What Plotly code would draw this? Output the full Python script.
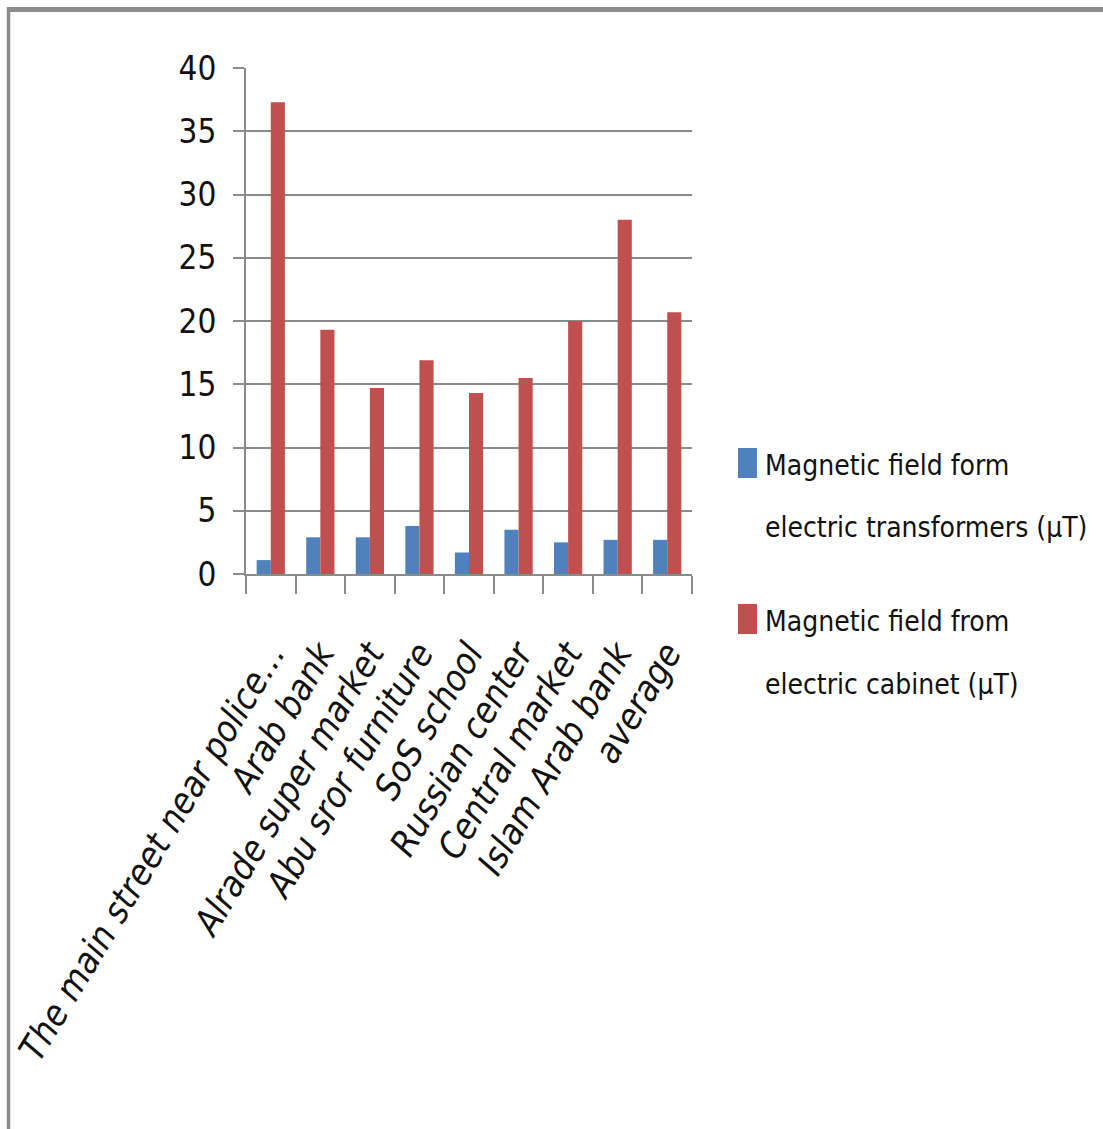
import plotly.graph_objects as go

# Measurement sites and readings (µT)
sites = [
    "The main street near police\u2026",
    "Arab bank",
    "Alrade super market",
    "Abu sror furniture",
    "SoS school",
    "Russian center",
    "Central market",
    "Islam Arab bank",
    "average",
]
transformers = [1.1, 2.9, 2.9, 3.8, 1.7, 3.5, 2.5, 2.7, 2.7]
cabinet = [37.3, 19.3, 14.7, 16.9, 14.3, 15.5, 20.0, 28.0, 20.7]

series_lines = [
    ["Magnetic field form", "electric transformers (\u00b5T)"],
    ["Magnetic field from", "electric cabinet (\u00b5T)"],
]
y_ticks = [0, 5, 10, 15, 20, 25, 30, 35, 40]

BLUE = "#4F81BD"
RED = "#C0504D"
GRID = "#8a8a8a"
FONT = "DejaVu Sans Condensed, Liberation Sans Narrow, sans-serif"

W, H = 1103, 1129
L, R, T, B = 246, 692, 68, 574  # plot area edges in pixels


def px_x(x):
    return (x - L) / (R - L)


def px_y(y):
    return (B - y) / (B - T)


fig = go.Figure()
fig.add_trace(go.Bar(x=sites, y=transformers, name=" ".join(series_lines[0]),
                     marker=dict(color=BLUE, line=dict(width=0))))
fig.add_trace(go.Bar(x=sites, y=cabinet, name=" ".join(series_lines[1]),
                     marker=dict(color=RED, line=dict(width=0))))

fig.update_layout(
    width=W, height=H,
    margin=dict(l=L, r=W - R, t=T, b=H - B, autoexpand=False),
    paper_bgcolor="white", plot_bgcolor="white",
    barmode="group", bargap=0.43, bargroupgap=0,
    showlegend=False,
    font=dict(family=FONT, color="#111111"),
)

fig.update_yaxes(
    range=[0, 40], tickvals=y_ticks, automargin=False,
    showgrid=True, gridcolor=GRID, gridwidth=2,
    zeroline=False,
    showline=True, linecolor=GRID, linewidth=2,
    ticks="outside", ticklen=11, tickwidth=2, tickcolor=GRID,
    ticklabelstandoff=10,
    tickfont=dict(size=33, family=FONT, color="#111111"),
)
fig.update_xaxes(
    automargin=False,
    showgrid=False, zeroline=False,
    showline=True, linecolor=GRID, linewidth=2,
    ticks="outside", tickson="boundaries", ticklen=18, tickwidth=2, tickcolor=GRID,
    tickangle=-59,
    ticklabelstandoff=42,
    tickfont=dict(size=36, family=FONT, color="#111111", style="italic"),
)

# Outer chart frame (top and left edges)
fig.add_shape(type="line", xref="paper", yref="paper",
              x0=px_x(7), x1=px_x(1110), y0=px_y(9.5), y1=px_y(9.5),
              line=dict(color="#8c8c8c", width=5))
fig.add_shape(type="line", xref="paper", yref="paper",
              x0=px_x(8.5), x1=px_x(8.5), y0=px_y(7), y1=px_y(1140),
              line=dict(color="#8c8c8c", width=3.5))

# Legend: colour swatches with two-line labels
swatch_tops = [448, 604]
line_centres = [[465, 527], [621, 684]]
for colour, top, centres, lines in zip([BLUE, RED], swatch_tops, line_centres, series_lines):
    fig.add_shape(type="rect", xref="paper", yref="paper",
                  x0=px_x(738), x1=px_x(757), y0=px_y(top), y1=px_y(top + 30),
                  fillcolor=colour, line=dict(width=0))
    for yc, text in zip(centres, lines):
        fig.add_annotation(xref="paper", yref="paper", x=px_x(763), y=px_y(yc),
                           xanchor="left", yanchor="middle", showarrow=False,
                           text=text, font=dict(size=28, family=FONT, color="#111111"))

fig.write_html("out.html")
